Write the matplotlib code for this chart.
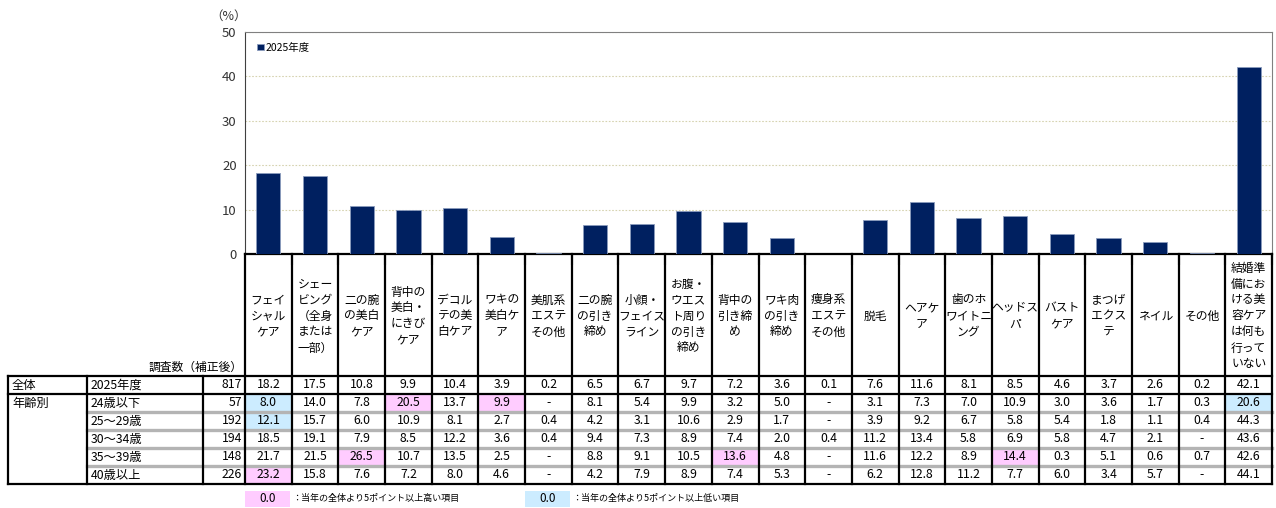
import numpy as np
import matplotlib
matplotlib.use("Agg")
import matplotlib.pyplot as plt
from matplotlib.patches import Rectangle

plt.rcParams['font.family'] = ['Noto Sans CJK JP', 'DejaVu Sans']

# categories (header text, line breaks as in the table)
categories = [
    "フェイ\nシャル\nケア", "シェー\nビング\n（全身\nまたは\n一部）", "二の腕\nの美白\nケア",
    "背中の\n美白・\nにきび\nケア", "デコル\nテの美\n白ケア", "ワキの\n美白ケ\nア",
    "美肌系\nエステ\nその他", "二の腕\nの引き\n締め", "小顔・\nフェイス\nライン",
    "お腹・\nウエス\nト周り\nの引き\n締め", "背中の\n引き締\nめ", "ワキ肉\nの引き\n締め",
    "痩身系\nエステ\nその他", "脱毛", "ヘアケ\nア", "歯のホ\nワイトニ\nング",
    "ヘッドス\nパ", "バスト\nケア", "まつげ\nエクス\nテ", "ネイル", "その他",
    "結婚準\n備にお\nける美\n容ケア\nは何も\n行って\nいない",
]

total_label = "2025年度"
total_n = 817
total = [18.2, 17.5, 10.8, 9.9, 10.4, 3.9, 0.2, 6.5, 6.7, 9.7, 7.2, 3.6, 0.1,
         7.6, 11.6, 8.1, 8.5, 4.6, 3.7, 2.6, 0.2, 42.1]

age_labels = ["24歳以下", "25～29歳", "30～34歳", "35～39歳", "40歳以上"]
age_n = [57, 192, 194, 148, 226]
N = None  # "-" in table
age_values = [
    [8.0, 14.0, 7.8, 20.5, 13.7, 9.9, N, 8.1, 5.4, 9.9, 3.2, 5.0, N, 3.1, 7.3, 7.0, 10.9, 3.0, 3.6, 1.7, 0.3, 20.6],
    [12.1, 15.7, 6.0, 10.9, 8.1, 2.7, 0.4, 4.2, 3.1, 10.6, 2.9, 1.7, N, 3.9, 9.2, 6.7, 5.8, 5.4, 1.8, 1.1, 0.4, 44.3],
    [18.5, 19.1, 7.9, 8.5, 12.2, 3.6, 0.4, 9.4, 7.3, 8.9, 7.4, 2.0, 0.4, 11.2, 13.4, 5.8, 6.9, 5.8, 4.7, 2.1, N, 43.6],
    [21.7, 21.5, 26.5, 10.7, 13.5, 2.5, N, 8.8, 9.1, 10.5, 13.6, 4.8, N, 11.6, 12.2, 8.9, 14.4, 0.3, 5.1, 0.6, 0.7, 42.6],
    [23.2, 15.8, 7.6, 7.2, 8.0, 4.6, N, 4.2, 7.9, 8.9, 7.4, 5.3, N, 6.2, 12.8, 11.2, 7.7, 6.0, 3.4, 5.7, N, 44.1],
]

navy = "#002060"
pink = "#FFCCFF"
blue = "#CCECFF"

W, H = 1276, 508
fig = plt.figure(figsize=(W / 100, H / 100), dpi=100)

# pixel layout
px_l, px_r, px_top, px_bot = 245, 1272, 32, 254
ncol = len(categories)
col_w = (px_r - px_l) / ncol

# --- bar chart
ax = fig.add_axes([px_l / W, 1 - px_bot / H, (px_r - px_l) / W, (px_bot - px_top) / H])
x = np.arange(ncol)
ax.bar(x, total, width=0.52, color=navy, edgecolor="#8a9bbd", linewidth=0.6, zorder=3,
       label=total_label)
ax.set_xlim(-0.5, ncol - 0.5)
ax.set_ylim(0, 50)
ax.set_yticks(np.arange(0, 51, 10))
ax.tick_params(axis="y", length=0, labelsize=9.5, labelcolor="#333333", pad=6)
ax.set_xticks(x)
ax.set_xticklabels([])
ax.tick_params(axis="x", length=0)
ax.set_xticks(np.arange(ncol) + 0.5, minor=True)
ax.tick_params(axis="x", which="minor", direction="out", length=8, width=1.5, color="black")
ax.yaxis.grid(True, linestyle=(0, (1.5, 1.5)), color="#d6d3b0", linewidth=0.8, zorder=0)
for s in ["top", "right"]:
    ax.spines[s].set_color("#808080")
ax.spines["left"].set_color("#404040")
ax.spines["bottom"].set_linewidth(1.6)
leg = ax.legend(loc="upper left", bbox_to_anchor=(0.005, 0.985), frameon=False,
                fontsize=7.5, handlelength=0.6, handleheight=0.6, handletextpad=0.2,
                borderaxespad=0.3)

# --- table overlay in pixel coordinates
t = fig.add_axes([0, 0, 1, 1])
t.set_xlim(0, W)
t.set_ylim(H, 0)
t.axis("off")

t.text(229, 16, "（%）", ha="center", va="center", fontsize=9, color="#333333")

col_x = [px_l + i * col_w for i in range(ncol + 1)]
hdr_bot = 376
row_h = 18
rows_y = [hdr_bot + i * row_h for i in range(7)]  # 376 ... 484
tab_l, c1, c2 = 8, 87, 203

# highlighted cells
for r, vals in enumerate(age_values):
    for c, v in enumerate(vals):
        if v is None:
            continue
        d = round(v - total[c], 1)
        col = pink if d >= 5 else (blue if d <= -5 else None)
        if col:
            t.add_patch(Rectangle((col_x[c], rows_y[r + 1]), col_w, row_h,
                                  facecolor=col, edgecolor="none", zorder=1))

# header text
for c, lab in enumerate(categories):
    t.text(col_x[c] + col_w / 2, (px_bot + hdr_bot) / 2 + 1, lab, ha="center", va="center",
           fontsize=8.5, linespacing=1.3, color="black")
t.text(px_l - 2, 367, "調査数（補正後）", ha="right", va="center", fontsize=8.5)

# lines
for cx in col_x:
    t.plot([cx, cx], [px_bot, rows_y[-1]], color="black", lw=1.6, zorder=3)
for cx in [tab_l, c1, c2]:
    t.plot([cx, cx], [hdr_bot, rows_y[-1]], color="black", lw=1.6, zorder=3)
for yy in [rows_y[0], rows_y[1], rows_y[-1]]:
    t.plot([tab_l, px_r], [yy, yy], color="black", lw=1.6, zorder=3)
for yy in rows_y[2:-1]:
    t.plot([c1, px_r], [yy, yy], color="#b4b4b4", lw=2.4, zorder=2)


def fmt(v):
    return "-" if v is None else f"{v:.1f}"


fs = 8.8
# total row
yc = rows_y[0] + row_h / 2
t.text(tab_l + 4, yc, "全体", ha="left", va="center", fontsize=fs)
t.text(c1 + 4, yc, total_label, ha="left", va="center", fontsize=fs)
t.text(px_l - 3, yc, str(total_n), ha="right", va="center", fontsize=fs)
for c, v in enumerate(total):
    t.text(col_x[c] + col_w / 2, yc, fmt(v), ha="center", va="center", fontsize=fs, zorder=4)

# age rows
t.text(tab_l + 4, rows_y[1] + row_h / 2, "年齢別", ha="left", va="center", fontsize=fs)
for r, (lab, n, vals) in enumerate(zip(age_labels, age_n, age_values)):
    yc = rows_y[r + 1] + row_h / 2
    t.text(c1 + 4, yc, lab, ha="left", va="center", fontsize=fs)
    t.text(px_l - 3, yc, str(n), ha="right", va="center", fontsize=fs)
    for c, v in enumerate(vals):
        t.text(col_x[c] + col_w / 2, yc, fmt(v), ha="center", va="center", fontsize=fs, zorder=4)

# note legend
notes = [(pink, 245, "：当年の全体より5ポイント以上高い項目"),
         (blue, 525, "：当年の全体より5ポイント以上低い項目")]
for color, nx, txt in notes:
    t.add_patch(Rectangle((nx, 491), 45, 16, facecolor=color, edgecolor="none"))
    t.text(nx + 22.5, 499, "0.0", ha="center", va="center", fontsize=8.5)
    t.text(nx + 47, 499, txt, ha="left", va="center", fontsize=6.5)

fig.savefig("out.png", dpi=100)
